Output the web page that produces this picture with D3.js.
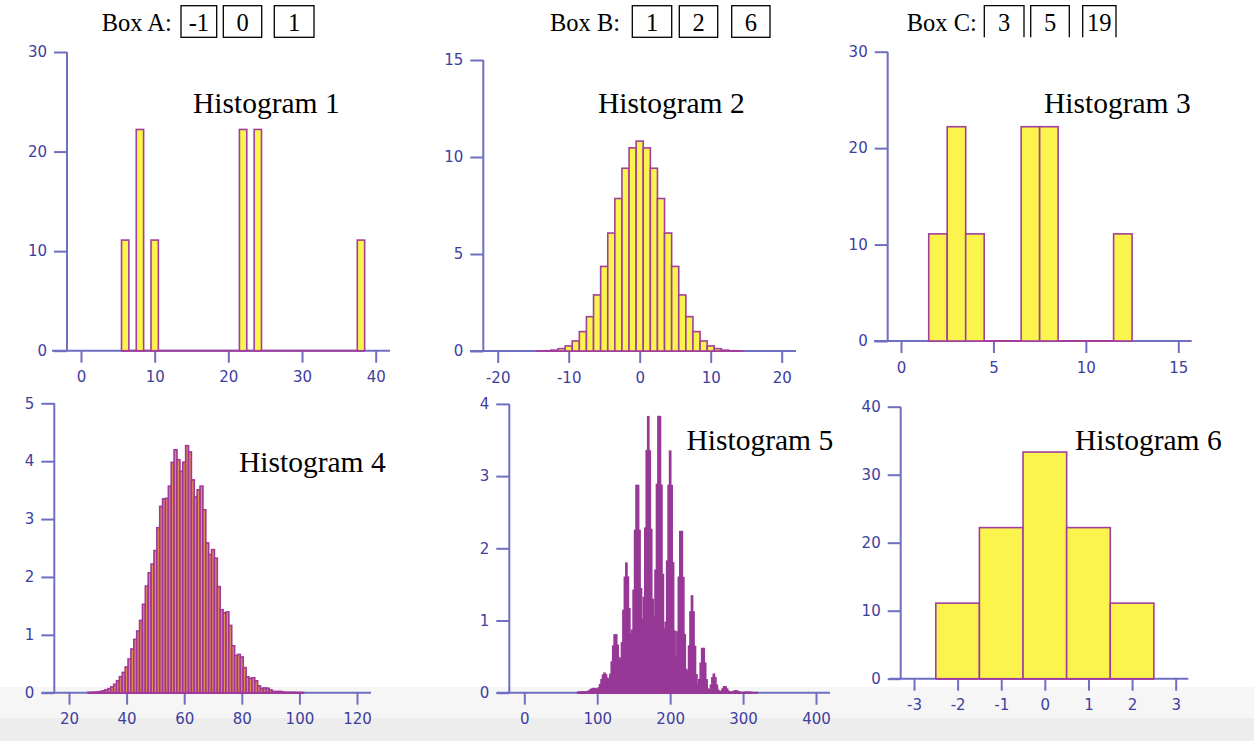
<!DOCTYPE html>
<html>
<head>
<meta charset="utf-8">
<script src="https://cdn.jsdelivr.net/npm/d3@7"></script>
<style>
  body { margin: 0; background: #fff; }
  svg { display: block; }
  .tick text { font-family: "DejaVu Sans", sans-serif; font-size: 15px; fill: #3e3ea0; }
  .tick line { stroke: #6f6fc2; stroke-width: 2; }
  .axis-line { stroke: #6f6fc2; stroke-width: 2; }
  .title, .box-label, .box-text { font-family: "Liberation Serif", "Times New Roman", serif; fill: #000; }
  .title { font-size: 29.5px; }
  .box-label, .box-text { font-size: 24.5px; }
  .box { fill: none; stroke: #000; stroke-width: 1.3; }
</style>
</head>
<body>
<svg id="chart" width="1254" height="741"></svg>
<script>
// the three boxes
var boxLabels = ["Box A:", "Box B:", "Box C:"];
var boxA = ["-1", "0", "1"];
var boxB = ["1", "2", "6"];
var boxC = ["3", "5", "19"];

var titles = ["Histogram 1", "Histogram 2", "Histogram 3", "Histogram 4", "Histogram 5", "Histogram 6"];

// histogram heights (percent per unit), bins of width 1 starting at start, step between bins
var hist1Start = 6;
var hist1 = [11.11, 0, 22.22, 0, 11.11, 0, 0, 0, 0, 0, 0, 0, 0, 0, 0, 0, 22.22, 0, 22.22,
             0, 0, 0, 0, 0, 0, 0, 0, 0, 0, 0, 0, 0, 11.11];

var hist2Start = -14;
var hist2 = [0.004, 0.015, 0.045, 0.12, 0.26, 0.52, 1.00, 1.77, 2.89, 4.36, 6.08, 7.86, 9.42, 10.47,
             10.82,
             10.47, 9.42, 7.86, 6.08, 4.36, 2.89, 1.77, 1.00, 0.52, 0.26, 0.12, 0.045, 0.015, 0.004];

var hist3Start = 2;
var hist3 = [11.11, 22.22, 11.11, 0, 0, 22.22, 22.22, 0, 0, 0, 11.11];

var hist4Start = 27;
var hist4 = [0.002, 0.004, 0.007, 0.012, 0.020, 0.033, 0.050, 0.071, 0.100, 0.145,
             0.207, 0.277, 0.350, 0.444, 0.582, 0.755, 0.921, 1.066, 1.249, 1.527,
             1.842, 2.072, 2.222, 2.456, 2.851, 3.219, 3.348, 3.358, 3.568, 3.979,
             4.197, 4.025, 3.827, 3.983, 4.268, 4.160, 3.677, 3.383, 3.506, 3.569,
             3.160, 2.588, 2.387, 2.472, 2.324, 1.833, 1.433, 1.380, 1.395, 1.162,
             0.811, 0.643, 0.661, 0.617, 0.434, 0.275, 0.246, 0.258, 0.205, 0.117,
             0.076, 0.082, 0.078, 0.048, 0.023, 0.019, 0.022, 0.017, 0.007, 0.003,
             0.004, 0.004, 0.002, 0.001, 0.001];

// only even totals occur, so bins are every 2 units
var hist5Start = 74;
var hist5 = [0.002, 0.004, 0.005, 0.005, 0.005, 0.006, 0.009, 0.017, 0.029, 0.043,
             0.053, 0.054, 0.048, 0.046, 0.063, 0.108, 0.176, 0.240, 0.266, 0.243,
             0.196, 0.179, 0.250, 0.422, 0.642, 0.797, 0.798, 0.654, 0.483, 0.456,
             0.686, 1.136, 1.595, 1.791, 1.598, 1.161, 0.811, 0.861, 1.415, 2.245,
             2.867, 2.866, 2.244, 1.438, 1.013, 1.317, 2.275, 3.349, 3.820, 3.344,
             2.257, 1.288, 1.042, 1.692, 2.881, 3.821, 3.820, 2.869, 1.634, 0.876,
             0.970, 1.819, 2.867, 3.342, 2.865, 1.795, 0.849, 0.504, 0.839, 1.595,
             2.228, 2.228, 1.591, 0.801, 0.318, 0.292, 0.642, 1.114, 1.337, 1.114,
             0.637, 0.244, 0.096, 0.179, 0.405, 0.608, 0.608, 0.405, 0.174, 0.047,
             0.034, 0.101, 0.203, 0.253, 0.203, 0.101, 0.029, 0.006, 0.016, 0.047,
             0.078, 0.078, 0.047, 0.016, 0.002, 0.001, 0.007, 0.017, 0.022, 0.017,
             0.007, 0.001, 0, 0, 0.001, 0.002, 0.002, 0.001, 0.001, 0,
             0, 0, 0, 0];

var hist6Start = -2;
var hist6 = [11.11, 22.22, 33.33, 22.22, 11.11];

// axis domains and ticks
var xDomains = [[0, 40], [-20, 20], [0, 15], [20, 120], [0, 400], [-3, 3]];
var yMaxes = [30, 15, 30, 5, 4, 40];
var xTicks = [[0, 10, 20, 30, 40], [-20, -10, 0, 10, 20], [0, 5, 10, 15],
              [20, 40, 60, 80, 100, 120], [0, 100, 200, 300, 400], [-3, -2, -1, 0, 1, 2, 3]];
var yTicks = [[0, 10, 20, 30], [0, 5, 10, 15], [0, 10, 20, 30], [0, 1, 2, 3, 4, 5],
              [0, 1, 2, 3, 4], [0, 10, 20, 30, 40]];

(function() {
    var svg = d3.select("#chart");

    // grey strip at the bottom of the screenshot
    svg.append("rect").attr("x", 0).attr("y", 687).attr("width", 1254).attr("height", 54).attr("fill", "#f6f6f6");
    svg.append("rect").attr("x", 0).attr("y", 718).attr("width", 1254).attr("height", 23).attr("fill", "#ededed");

    var histData = [
        {start: hist1Start, step: 1, values: hist1},
        {start: hist2Start, step: 1, values: hist2},
        {start: hist3Start, step: 1, values: hist3},
        {start: hist4Start, step: 1, values: hist4},
        {start: hist5Start, step: 2, values: hist5},
        {start: hist6Start, step: 1, values: hist6}
    ];

    // pixel frame of each panel: x range, axis line ends, y axis x, y range, title pos
    var frames = [
        {xr: [81, 375.7],   xl: [52, 390],     ax: 67,    yr: [350.7, 52],  tx: 193,  ty: 113.3},
        {xr: [497.7, 781.7], xl: [470, 796],   ax: 483.3, yr: [351, 60],    tx: 598,  ty: 113.3},
        {xr: [901, 1178.3], xl: [874, 1191.7], ax: 887.7, yr: [341, 51.7],  tx: 1044, ty: 113.3},
        {xr: [69, 357],     xl: [41.7, 371],   ax: 54.3,  yr: [692.7, 403.3], tx: 239, ty: 471.7},
        {xr: [524.3, 816],  xl: [496.7, 830],  ax: 509.3, yr: [692.7, 403.9], tx: 686.5, ty: 450},
        {xr: [914, 1175.7], xl: [889.3, 1188.3], ax: 900.7, yr: [678.7, 406.7], tx: 1075, ty: 450}
    ];

    var styles = [
        {fill: "#fbf44c", stroke: "#a23f9c", sw: 1.6},
        {fill: "#fbf44c", stroke: "#a23f9c", sw: 1.6},
        {fill: "#fbf44c", stroke: "#a23f9c", sw: 1.6},
        {fill: "#e0904a", stroke: "#a1379a", sw: 1.6},
        {fill: "#973897", stroke: "#973897", sw: 2},
        {fill: "#fbf44c", stroke: "#a23f9c", sw: 1.6}
    ];

    histData.forEach(function(h, i) {
        drawPanel(i, h, frames[i], styles[i]);
    });

    drawBoxes();

    function drawPanel(i, h, f, st) {
        var g = svg.append("g").attr("class", "panel");

        var x = d3.scaleLinear().domain(xDomains[i]).range(f.xr);
        var y = d3.scaleLinear().domain([0, yMaxes[i]]).range(f.yr);

        // axis lines
        g.append("line").attr("class", "axis-line")
            .attr("x1", f.xl[0]).attr("x2", f.xl[1])
            .attr("y1", y(0)).attr("y2", y(0));
        g.append("line").attr("class", "axis-line")
            .attr("x1", f.ax).attr("x2", f.ax)
            .attr("y1", y(yMaxes[i])).attr("y2", y(0));

        var xAxis = d3.axisBottom(x).tickValues(xTicks[i]).tickSize(12).tickPadding(9)
            .tickFormat(function(d) { return d; });
        g.append("g").attr("transform", "translate(0," + y(0) + ")").call(xAxis)
            .call(function(s) { s.select(".domain").remove(); });

        var yAxis = d3.axisLeft(y).tickValues(yTicks[i]).tickSize(13).tickPadding(7)
            .tickFormat(function(d) { return d; });
        g.append("g").attr("transform", "translate(" + f.ax + ",0)").call(yAxis)
            .call(function(s) { s.select(".domain").remove(); });

        var bins = h.values.map(function(v, k) {
            return {x: h.start + k * h.step, v: v};
        });

        // zero-height bins show as a purple line on the base
        var first = bins[0].x, last = bins[bins.length - 1].x;
        g.append("line")
            .attr("x1", x(first - 0.5)).attr("x2", x(last + 0.5))
            .attr("y1", y(0)).attr("y2", y(0))
            .attr("stroke", st.stroke).attr("stroke-width", 2);

        g.selectAll("rect.bar")
            .data(bins.filter(function(d) { return d.v > 0; }))
            .enter()
            .append("rect")
            .attr("class", "bar")
            .attr("x", function(d) { return x(d.x - 0.5); })
            .attr("width", function(d) { return x(d.x + 0.5) - x(d.x - 0.5); })
            .attr("y", function(d) { return y(d.v); })
            .attr("height", function(d) { return y(0) - y(d.v); })
            .attr("fill", st.fill)
            .attr("stroke", st.stroke)
            .attr("stroke-width", st.sw);

        g.append("text").attr("class", "title")
            .attr("x", f.tx).attr("y", f.ty)
            .text(titles[i]);
    }

    function drawBoxes() {
        var boxSets = [boxA, boxB, boxC];
        var labelX = [101.7, 550, 906.7];
        var boxX = [
            [[181, 216.7], [223.3, 261.7], [274.3, 314]],
            [[632.3, 671.7], [679.3, 717.7], [731.7, 770]],
            [[984.3, 1024], [1030.7, 1069.3], [1082.7, 1116]]
        ];
        var top = 5.7, bottom = 37.3, base = 30.7;

        boxSets.forEach(function(vals, i) {
            var g = svg.append("g").attr("class", "box-group");
            g.append("text").attr("class", "box-label")
                .attr("x", labelX[i]).attr("y", base)
                .text(boxLabels[i]);

            vals.forEach(function(v, k) {
                var bx = boxX[i][k];
                if (i === 2) {
                    // box C tickets are cut off at the bottom
                    g.append("path").attr("class", "box")
                        .attr("d", "M" + bx[0] + "," + bottom + "V" + top + "H" + bx[1] + "V" + bottom);
                } else {
                    g.append("rect").attr("class", "box")
                        .attr("x", bx[0]).attr("y", top)
                        .attr("width", bx[1] - bx[0]).attr("height", bottom - top);
                }
                g.append("text").attr("class", "box-text")
                    .attr("x", (bx[0] + bx[1]) / 2).attr("y", base)
                    .attr("text-anchor", "middle")
                    .text(v);
            });
        });
    }
})();
</script>
</body>
</html>
